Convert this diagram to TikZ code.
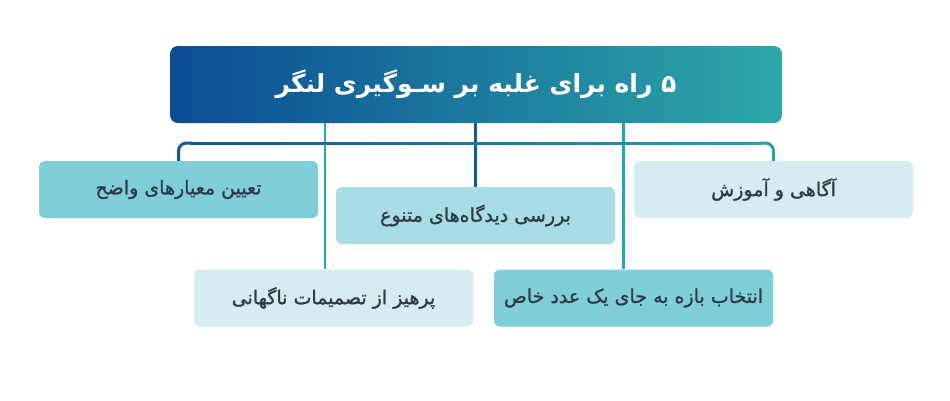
\documentclass[tikz,border=0pt]{standalone}
\usepackage{fontspec}
\TeXXeTstate=1
\newfontfamily\fa[Script=Arabic]{DejaVu Sans}
\newfontfamily\faM[Script=Arabic, FakeBold=1.2]{DejaVu Sans}
\usetikzlibrary{calc}
\definecolor{tA}{HTML}{0B4C94}
\definecolor{tB}{HTML}{2DA8A8}
\definecolor{lA}{HTML}{0E5A92}
\definecolor{lB}{HTML}{2A9FA4}
\definecolor{vCyan}{HTML}{22A7C4}
\definecolor{vDark}{HTML}{0F5C98}
\definecolor{vTeal}{HTML}{22A7B8}
\definecolor{bMid}{HTML}{7FCFD9}
\definecolor{bSoft}{HTML}{A9DDE6}
\definecolor{bPale}{HTML}{D5ECF2}
\definecolor{txt}{HTML}{2F3A48}
\tikzset{
  card/.style={rounded corners=6pt, minimum width=279pt, minimum height=57pt, inner sep=0pt,
    text=txt, font=\faM\fontsize{19}{22}\selectfont},
  vline/.style={line width=2.6pt},
  brk/.style={line width=3pt}
}
\begin{document}
\begin{tikzpicture}[x=1pt,y=-1pt]
\useasboundingbox (0,0) rectangle (950,400);
\node[card, fill=bMid] (b1) at (178.5,189.5) {\beginR تعیین معیارهای واضح\endR};
\node[card, fill=bSoft] (b2) at (475.5,215.5) {\beginR بررسی دیدگاه‌های متنوع\endR};
\node[card, fill=bPale] (b3) at (773.5,189.5) {\beginR آگاهی و آموزش\endR};
\node[card, fill=bPale] (b4) at (333.5,298) {\beginR پرهیز از تصمیمات ناگهانی\endR};
\node[card, fill=bMid] (b5) at (633.5,298) {\beginR انتخاب بازه به جای یک عدد خاص\endR};
\node[rounded corners=8pt, left color=tA, right color=tB, minimum width=612pt, minimum height=77pt,
      inner sep=0pt, text=white, font=\fa\bfseries\fontsize{25}{28}\selectfont] (title) at (476,84.5)
      {\beginR ۵ راه برای غلبه بر سـوگیری لنگر\endR};
\coordinate (v1) at (325,0);
\coordinate (v3) at (623.5,0);
\coordinate (bar) at (0,143);
% vertical connectors
\draw[vline, vCyan] (title.south -| v1) -- (b4.north -| v1);
\draw[vline, vDark] (title.south -| b2.north) -- (b2.north);
\draw[vline, vTeal] (title.south -| v3) -- (b5.north -| v3);
% bracket with a left-to-right colour blend
\foreach \i in {0,...,39}{
  \pgfmathtruncatemacro\p{100*\i/39}
  \pgfmathsetmacro\xa{190+\i*(571/40)-0.5}
  \pgfmathsetmacro\xb{190+(\i+1)*(571/40)+0.5}
  \draw[brk, lB!\p!lA] (\xa,143) -- (\xb,143);
}
\draw[brk, lA, rounded corners=8pt] (b1.north) -- (b1.north |- bar) -- ($(b1.north |- bar)+(14,0)$);
\draw[brk, lB, rounded corners=8pt] ($(b3.north |- bar)+(-14,0)$) -- (b3.north |- bar) -- (b3.north);
\end{tikzpicture}
\end{document}
